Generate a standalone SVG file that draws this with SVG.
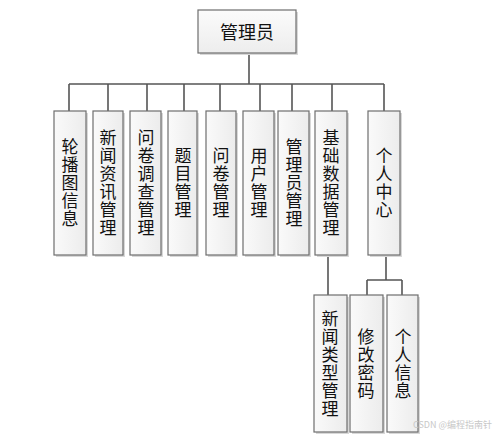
<svg xmlns="http://www.w3.org/2000/svg" width="500" height="437" viewBox="0 0 500 437">
<defs>
<linearGradient id="g" x1="0" y1="0" x2="1" y2="0">
<stop offset="0" stop-color="#fafafa"/>
<stop offset="1" stop-color="#ececec"/>
</linearGradient>
<linearGradient id="gv" x1="0" y1="0" x2="0" y2="1">
<stop offset="0" stop-color="#fbfbfb"/>
<stop offset="1" stop-color="#ededed"/>
</linearGradient>
</defs>
<style>
.sh{fill:#d8d8d8}
.b{fill:url(#g);stroke:#6e6e6e;stroke-width:1.2}
.bt{fill:url(#gv);stroke:#6e6e6e;stroke-width:1.2}
.t{font-family:"Noto Sans CJK SC","Noto Sans CJK JP",sans-serif;font-size:17px;fill:#111;text-anchor:middle}
.v{writing-mode:vertical-rl;letter-spacing:1px}
.c{fill:none;stroke:#555;stroke-width:1.6}
.w{font-family:"Noto Sans CJK SC",sans-serif;font-size:9px;fill:#c8c8c8}
</style>
<rect width="500" height="437" fill="#fff"/>
<g id="connectors">
<path class="c" d="M249 53V84M69 84H384M69 84V111M108 84V111M147 84V111M184 84V111M220 84V111M260 84V111M292 84V111M332 84V111M384 84V111"/>
<path class="c" d="M328 255V295M386 255V280M367 280H402M367 280V295M402 280V295"/>
</g>
<g id="admin">
<rect class="sh" x="200" y="12" width="98" height="43"/>
<rect class="bt" x="198" y="10" width="98" height="43"/>
<text class="t" x="247" y="39" style="font-size:18px">管理员</text>
</g>
<g id="n1">
<rect class="sh" x="56" y="113" width="32" height="144"/>
<rect class="b" x="54" y="111" width="32" height="144"/>
<text class="t v" x="70" y="183">轮播图信息</text>
</g>
<g id="n2">
<rect class="sh" x="95" y="113" width="30" height="144"/>
<rect class="b" x="93" y="111" width="30" height="144"/>
<text class="t v" x="108" y="183">新闻资讯管理</text>
</g>
<g id="n3">
<rect class="sh" x="132" y="113" width="31" height="144"/>
<rect class="b" x="130" y="111" width="31" height="144"/>
<text class="t v" x="146" y="183">问卷调查管理</text>
</g>
<g id="n4">
<rect class="sh" x="170" y="113" width="29" height="144"/>
<rect class="b" x="168" y="111" width="29" height="144"/>
<text class="t v" x="183" y="183">题目管理</text>
</g>
<g id="n5">
<rect class="sh" x="208" y="113" width="30" height="144"/>
<rect class="b" x="206" y="111" width="30" height="144"/>
<text class="t v" x="221" y="183">问卷管理</text>
</g>
<g id="n6">
<rect class="sh" x="245" y="113" width="31" height="144"/>
<rect class="b" x="243" y="111" width="31" height="144"/>
<text class="t v" x="259" y="183">用户管理</text>
</g>
<g id="n7">
<rect class="sh" x="280" y="113" width="31" height="144"/>
<rect class="b" x="278" y="111" width="31" height="144"/>
<text class="t v" x="294" y="183">管理员管理</text>
</g>
<g id="n8">
<rect class="sh" x="317" y="113" width="32" height="144"/>
<rect class="b" x="315" y="111" width="32" height="144"/>
<text class="t v" x="331" y="183">基础数据管理</text>
</g>
<g id="n9">
<rect class="sh" x="370" y="113" width="32" height="144"/>
<rect class="b" x="368" y="111" width="32" height="144"/>
<text class="t v" x="384" y="183">个人中心</text>
</g>
<g id="n10">
<rect class="sh" x="316" y="297" width="33" height="137"/>
<rect class="b" x="314" y="295" width="33" height="137"/>
<text class="t v" x="330" y="364">新闻类型管理</text>
</g>
<g id="n11">
<rect class="sh" x="352" y="297" width="33" height="137"/>
<rect class="b" x="350" y="295" width="33" height="137"/>
<text class="t v" x="366" y="364">修改密码</text>
</g>
<g id="n12">
<rect class="sh" x="389" y="297" width="31" height="137"/>
<rect class="b" x="387" y="295" width="31" height="137"/>
<text class="t v" x="403" y="364">个人信息</text>
</g>
<text class="w" x="413" y="428">CSDN @编程指南针</text>
</svg>
